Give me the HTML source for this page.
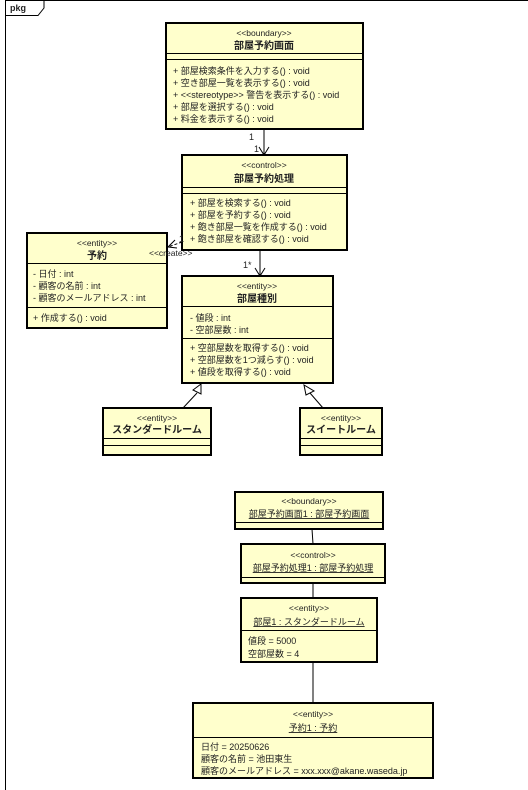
<!DOCTYPE html>
<html><head><meta charset="utf-8"><style>
html,body{margin:0;padding:0;background:#fff;}
svg{display:block;}
text{font-family:"Liberation Sans","Noto Sans CJK JP",sans-serif;font-size:9px;fill:#222;}
.b{font-weight:bold;font-size:10px;}
.box{fill:#ffffcc;stroke:#000;stroke-width:2;}
.ln{stroke:#000;stroke-width:1;fill:none;}
.st{font-size:8.5px;}
</style></head><body>
<svg width="528" height="790" viewBox="0 0 528 790">
<path class="ln" d="M5.5,0 V790 M5.5,0.5 H528"/>
<path class="ln" d="M5.5,15.5 H38 L44,8 V0"/>
<text x="10" y="11" style="font-weight:bold;font-size:9px">pkg</text>

<rect class="box" x="166" y="23" width="197" height="106"/>
<path class="ln" d="M166,53.5 H363 M166,59.5 H363"/>
<text class="st" x="264" y="36" text-anchor="middle">&lt;&lt;boundary&gt;&gt;</text>
<text class="b" x="264" y="49" text-anchor="middle">部屋予約画面</text>
<text x="173" y="74">+ 部屋検索条件を入力する() : void</text>
<text x="173" y="86">+ 空き部屋一覧を表示する() : void</text>
<text x="173" y="98">+ &lt;&lt;stereotype&gt;&gt; 警告を表示する() : void</text>
<text x="173" y="110">+ 部屋を選択する() : void</text>
<text x="173" y="122">+ 料金を表示する() : void</text>

<path class="ln" d="M264,129 V155 M259,147 L264,155 L269,147"/>
<text x="249" y="140">1</text>
<text x="254" y="152">1</text>

<rect class="box" x="182" y="155" width="165" height="95"/>
<path class="ln" d="M182,187.5 H347 M182,193.5 H347"/>
<text class="st" x="264" y="168" text-anchor="middle">&lt;&lt;control&gt;&gt;</text>
<text class="b" x="264" y="182" text-anchor="middle">部屋予約処理</text>
<text x="190" y="206">+ 部屋を検索する() : void</text>
<text x="190" y="218">+ 部屋を予約する() : void</text>
<text x="190" y="230">+ 飽き部屋一覧を作成する() : void</text>
<text x="190" y="242">+ 飽き部屋を確認する() : void</text>

<rect class="box" x="27" y="233" width="140" height="95"/>
<path class="ln" d="M27,263.5 H167 M27,307.5 H167"/>
<text class="st" x="97" y="246" text-anchor="middle">&lt;&lt;entity&gt;&gt;</text>
<text class="b" x="97" y="259" text-anchor="middle">予約</text>
<text x="33" y="277">- 日付 : int</text>
<text x="33" y="289">- 顧客の名前 : int</text>
<text x="33" y="301">- 顧客のメールアドレス : int</text>
<text x="33" y="321">+ 作成する() : void</text>

<path class="ln" d="M182,242 L168,247" stroke-dasharray="3,2"/>
<path class="ln" d="M175,240 L168,247 L177,248"/>
<text x="179" y="242">1</text>
<text x="149" y="256" class="st">&lt;&lt;create&gt;&gt;</text>

<path class="ln" d="M260,250 V276 M255,268 L260,276 L265,268"/>
<text x="243" y="268">1*</text>

<rect class="box" x="182" y="276" width="151" height="107"/>
<path class="ln" d="M182,306.5 H333 M182,338.5 H333"/>
<text class="st" x="257" y="289" text-anchor="middle">&lt;&lt;entity&gt;&gt;</text>
<text class="b" x="257" y="302" text-anchor="middle">部屋種別</text>
<text x="190" y="321">- 値段 : int</text>
<text x="190" y="333">- 空部屋数 : int</text>
<text x="190" y="351">+ 空部屋数を取得する() : void</text>
<text x="190" y="363">+ 空部屋数を1つ減らす() : void</text>
<text x="190" y="375">+ 値段を取得する() : void</text>

<path class="ln" d="M183,408 L197,393" />
<path d="M201,384 L193,390 L201,394 Z" fill="#fff" stroke="#000" stroke-width="1"/>
<path class="ln" d="M323,408 L310,393"/>
<path d="M304,385 L306,395 L314,391 Z" fill="#fff" stroke="#000" stroke-width="1"/>

<rect class="box" x="103" y="408" width="108" height="47"/>
<path class="ln" d="M103,438.5 H211 M103,445.5 H211"/>
<text class="st" x="157" y="421" text-anchor="middle">&lt;&lt;entity&gt;&gt;</text>
<text class="b" x="157" y="433" text-anchor="middle">スタンダードルーム</text>

<rect class="box" x="300" y="408" width="82" height="47"/>
<path class="ln" d="M300,438.5 H382 M300,445.5 H382"/>
<text class="st" x="341" y="421" text-anchor="middle">&lt;&lt;entity&gt;&gt;</text>
<text class="b" x="341" y="433" text-anchor="middle">スイートルーム</text>

<path class="ln" d="M312,529 L313,544 M313,583 V598 M313,662 V703"/>

<rect class="box" x="235" y="492" width="148" height="37"/>
<path class="ln" d="M235,522.5 H383"/>
<text class="st" x="309" y="504" text-anchor="middle">&lt;&lt;boundary&gt;&gt;</text>
<text x="309" y="517" text-anchor="middle" text-decoration="underline">部屋予約画面1 : 部屋予約画面</text>

<rect class="box" x="241" y="544" width="144" height="39"/>
<path class="ln" d="M241,577.5 H385"/>
<text class="st" x="313" y="558" text-anchor="middle">&lt;&lt;control&gt;&gt;</text>
<text x="313" y="571" text-anchor="middle" text-decoration="underline">部屋予約処理1 : 部屋予約処理</text>

<rect class="box" x="241" y="598" width="136" height="64"/>
<path class="ln" d="M241,630.5 H377"/>
<text class="st" x="309" y="611" text-anchor="middle">&lt;&lt;entity&gt;&gt;</text>
<text x="309" y="625" text-anchor="middle" text-decoration="underline">部屋1 : スタンダードルーム</text>
<text x="248" y="644">値段 = 5000</text>
<text x="248" y="657">空部屋数 = 4</text>

<rect class="box" x="193" y="703" width="240" height="75"/>
<path class="ln" d="M193,737.5 H433"/>
<text class="st" x="313" y="717" text-anchor="middle">&lt;&lt;entity&gt;&gt;</text>
<text x="313" y="731" text-anchor="middle" text-decoration="underline">予約1 : 予約</text>
<text x="201" y="750">日付 = 20250626</text>
<text x="201" y="762">顧客の名前 = 池田東生</text>
<text x="201" y="774">顧客のメールアドレス = xxx.xxx@akane.waseda.jp</text>
</svg>
</body></html>
